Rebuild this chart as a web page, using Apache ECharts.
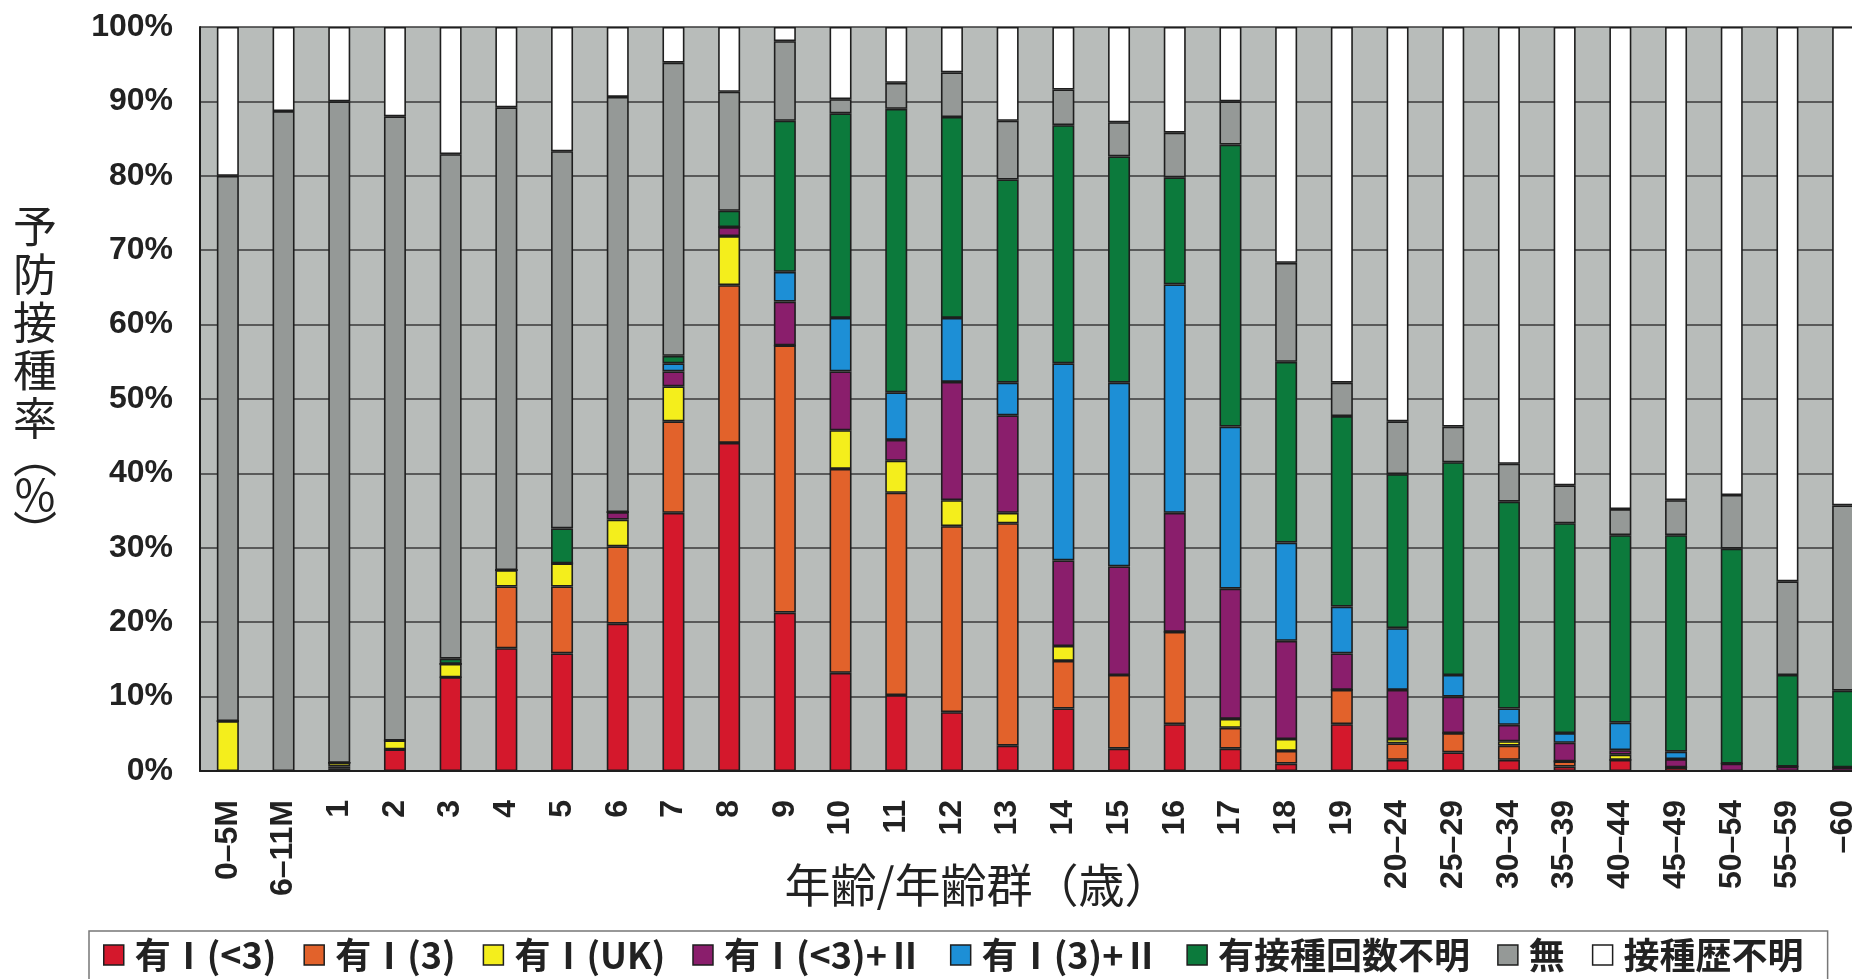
<!DOCTYPE html>
<html>
<head>
<meta charset="utf-8">
<title>予防接種率</title>
<script src="https://cdn.jsdelivr.net/npm/echarts@6/dist/echarts.min.js"></script>
<style>
  html, body { margin: 0; padding: 0; background: #fff; overflow: hidden; }
  #chart { width: 1871px; height: 979px; }
</style>
</head>
<body>
<div id="chart"></div>
<script>
// age groups on the x axis
var categories = ['0–5M', '6–11M', '1', '2', '3', '4', '5', '6', '7', '8', '9', '10',
  '11', '12', '13', '14', '15', '16', '17', '18', '19', '20–24', '25–29', '30–34',
  '35–39', '40–44', '45–49', '50–54', '55–59', '–60'];

// share of each vaccination status (%)
var redI3 = [0, 0, 0.3, 2.9, 12.6, 16.5, 15.8, 19.8, 34.7, 44.1, 21.3, 13.2, 10.2, 7.9, 3.4,
  8.4, 3.0, 6.3, 3.0, 1.0, 6.3, 1.5, 2.5, 1.5, 0.6, 1.5, 0.5, 0, 0, 0];
var orangeI3 = [0, 0, 0.3, 0, 0, 8.3, 9.0, 10.4, 12.3, 21.2, 35.9, 27.4, 27.2, 25.0, 29.9,
  6.4, 9.9, 12.4, 2.8, 1.7, 4.6, 2.2, 2.6, 1.9, 0.7, 0, 0, 0, 0, 0];
var yellowUK = [6.7, 0, 0.5, 1.2, 1.8, 2.2, 3.1, 3.6, 4.7, 6.6, 0, 5.2, 4.3, 3.5, 1.4,
  2.0, 0, 0, 1.2, 1.6, 0, 0.6, 0, 0.6, 0, 0.7, 0, 0, 0, 0];
var purpleI3II = [0, 0, 0, 0, 0, 0, 0, 1.0, 2.0, 1.2, 5.9, 7.9, 2.8, 15.9, 13.1,
  11.5, 14.6, 16.0, 17.5, 13.2, 4.9, 6.6, 4.9, 2.2, 2.5, 0.6, 1.1, 1.0, 0.6, 0.5];
var blueI3II = [0, 0, 0, 0, 0, 0, 0, 0, 1.1, 0, 4.0, 7.2, 6.4, 8.6, 4.4,
  26.5, 24.7, 30.7, 21.8, 13.2, 6.3, 8.3, 2.9, 2.2, 1.3, 3.7, 1.0, 0, 0, 0];
var greenUnknownCount = [0, 0, 0, 0, 0.7, 0, 4.7, 0, 1.0, 2.2, 20.3, 27.5, 38.1, 27.0, 27.3,
  32.0, 30.4, 14.4, 37.9, 24.3, 25.6, 20.7, 28.6, 27.8, 28.2, 25.2, 29.1, 28.9, 12.3, 10.3];
var greyNone = [73.3, 88.7, 88.9, 83.9, 67.8, 62.2, 50.7, 55.8, 39.4, 16.0, 10.7, 1.9, 3.5, 6.0, 7.9,
  4.8, 4.6, 6.0, 5.8, 13.3, 4.5, 7.1, 4.8, 5.1, 5.1, 3.5, 4.7, 7.2, 12.6, 24.9];
var whiteUnknown = [20.0, 11.3, 10.0, 12.0, 17.1, 10.8, 16.7, 9.4, 4.8, 8.7, 1.9, 9.7, 7.5, 6.1, 12.6,
  8.4, 12.8, 14.2, 10.0, 31.7, 47.8, 53.0, 53.7, 58.7, 61.6, 64.8, 63.6, 62.9, 74.5, 64.3];

var seriesNames = ['有Ⅰ(<3)', '有Ⅰ(3)', '有Ⅰ(UK)', '有Ⅰ(<3)+Ⅱ', '有Ⅰ(3)+Ⅱ', '有接種回数不明', '無', '接種歴不明'];
var seriesData = [redI3, orangeI3, yellowUK, purpleI3II, blueI3II, greenUnknownCount, greyNone, whiteUnknown];
var colors = ['#d4182c', '#e2622b', '#f4ee1c', '#8a1e6c', '#1d8fd6', '#0c7a3c', '#959997', '#ffffff'];

var numFont = '"Liberation Sans", Arial, sans-serif';
var cjkFont = '"Noto Sans CJK JP", "Noto Sans", sans-serif';

var chart = echarts.init(document.getElementById('chart'));

var series = seriesNames.map(function (name, i) {
  return {
    name: name,
    type: 'bar',
    stack: 'total',
    barWidth: 22,
    data: seriesData[i],
    itemStyle: {
      color: colors[i],
      borderColor: '#1e1e1e',
      borderWidth: 1.6
    },
    emphasis: { disabled: true }
  }
});

chart.setOption({
  animation: false,
  color: colors,
  grid: {
    left: 200,
    right: 0,
    top: 27,
    bottom: 208,
    show: true,
    backgroundColor: '#b8bcba',
    borderWidth: 0
  },
  xAxis: {
    type: 'category',
    data: categories,
    name: '年齢/年齢群（歳）',
    nameLocation: 'middle',
    nameGap: 114,
    nameMoveOverlap: false,
    nameTextStyle: {
      fontFamily: cjkFont,
      fontSize: 46,
      color: '#222',
      align: 'center',
      verticalAlign: 'middle',
      padding: [0, 116, 0, 0]
    },
    axisLine: { lineStyle: { color: '#1e1e1e', width: 2 } },
    axisTick: { inside: true, length: 8, lineStyle: { color: '#1e1e1e', width: 1.5 } },
    axisLabel: {
      rotate: 90,
      interval: 0,
      margin: 29,
      fontFamily: numFont,
      fontWeight: 'bold',
      fontSize: 32,
      color: '#222'
    }
  },
  yAxis: {
    type: 'value',
    min: 0,
    max: 100,
    interval: 10,
    name: '{c|予}\n{c|防}\n{c|接}\n{c|種}\n{c|率}\n{p|︵}\n{c|%}\n{p|︶}',
    nameLocation: 'middle',
    nameRotate: 0,
    nameGap: 165,
    nameMoveOverlap: false,
    nameTextStyle: {
      fontFamily: cjkFont,
      fontSize: 44,
      color: '#222',
      align: 'center',
      verticalAlign: 'middle',
      padding: [0, 0, 50, 0],
      rich: {
        c: { fontFamily: cjkFont, fontSize: 44, lineHeight: 48, color: '#222' },
        p: { fontFamily: cjkFont, fontSize: 44, lineHeight: 28, color: '#222' }
      }
    },
    axisLine: { show: true, lineStyle: { color: '#1e1e1e', width: 2 } },
    axisTick: { show: false },
    splitLine: { lineStyle: { color: '#3a3a3a', width: 1.5 } },
    axisLabel: {
      formatter: '{value}%',
      margin: 27,
      fontFamily: numFont,
      fontWeight: 'bold',
      fontSize: 32,
      color: '#222'
    }
  },
  legend: {
    data: seriesNames,
    left: 89,
    top: 931,
    padding: [5, 24, 10, 14],
    itemGap: 27,
    itemWidth: 20,
    itemHeight: 20,
    icon: 'rect',
    borderColor: '#777',
    borderWidth: 1.5,
    itemStyle: { borderColor: '#1e1e1e', borderWidth: 1.5 },
    textStyle: {
      fontFamily: cjkFont,
      fontWeight: 'bold',
      fontSize: 36,
      lineHeight: 38,
      color: '#222',
      padding: [0, 0, 0, 6]
    },
    selectedMode: false
  },
  series: series
});
</script>
</body>
</html>
